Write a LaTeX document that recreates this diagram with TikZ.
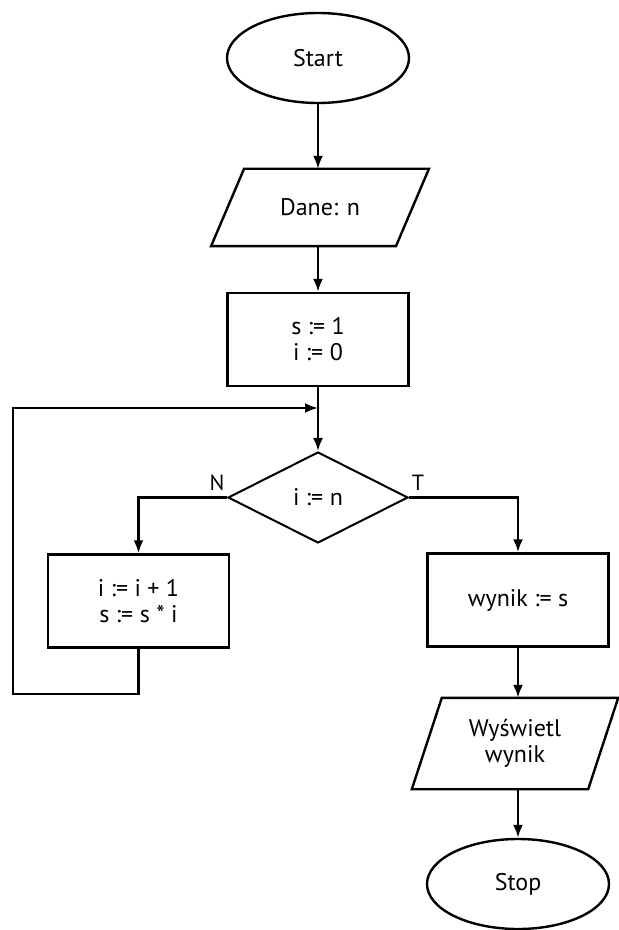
\documentclass[tikz,border=0pt]{standalone}
\usepackage{fontspec}
\setmainfont{PT Sans}
\usetikzlibrary{shapes.geometric,arrows.meta}
\begin{document}
\begin{tikzpicture}[x=0.5pt,y=-0.5pt,line width=1.2pt,
  every node/.style={font=\fontsize{12}{13}\selectfont, align=center, inner sep=0pt},
  terminal/.style={draw, ellipse, minimum width=91pt, minimum height=45pt},
  iobody/.style={rectangle, minimum width=#1},
  proc/.style={draw, rectangle, minimum width=90.5pt, minimum height=46.5pt},
  decision/.style={draw, diamond, line width=1pt, minimum width=90pt, minimum height=45.5pt},
  lab/.style={font=\fontsize{11}{12}\selectfont},
  arr/.style={-{Latex[length=6.5pt,width=5pt]}}]
  \useasboundingbox (0,0) rectangle (618,930);

  % flowchart blocks
  \node[terminal] (start) at (318,58) {Start};
  \node[iobody=91.25pt, minimum height=37.5pt] (dane) at (320,207.5) {Dane: n};
  \node[proc] (init) at (318,339.5) {s := 1\\ i := 0};
  \node[decision] (test) at (318,497.5) {i := n};
  \node[proc] (step) at (138.5,601) {i := i + 1\\ s := s * i};
  \node[proc] (res) at (518,600) {wynik := s};
  \node[iobody=87pt, minimum height=44.5pt] (show) at (515,743.5) {Wyświetl\\ wynik};
  \node[terminal] (stop) at (518,884) {Stop};

  % slanted input/output outlines around their text bodies
  \draw ([xshift=-8.25pt]dane.south west) -- ([xshift=8.25pt]dane.north west)
     -- ([xshift=8.25pt]dane.north east) -- ([xshift=-8.25pt]dane.south east) -- cycle;
  \draw ([xshift=-7.5pt]show.south west) -- ([xshift=7.5pt]show.north west)
     -- ([xshift=7.5pt]show.north east) -- ([xshift=-7.5pt]show.south east) -- cycle;

  % branch labels
  \node[lab] (nlab) at (217,483) {N};
  \node[lab] (tlab) at (418,483) {T};

  % loop return points
  \coordinate (join) at (318,408);
  \coordinate (back) at (13,694);

  % connectors
  \draw[arr] (start) -- (start.south |- dane.north);
  \draw[arr] (start.south |- dane.south) -- (init);
  \draw[arr] (init) -- (test);
  \draw[arr] (test.west) -| (step);
  \draw[arr] (test.east) -| (res);
  \draw[arr] (res) -- (res.south |- show.north);
  \draw[arr] (res.south |- show.south) -- (stop);
  \draw[arr] (step.south) |- (back) |- (join);
\end{tikzpicture}
\end{document}
